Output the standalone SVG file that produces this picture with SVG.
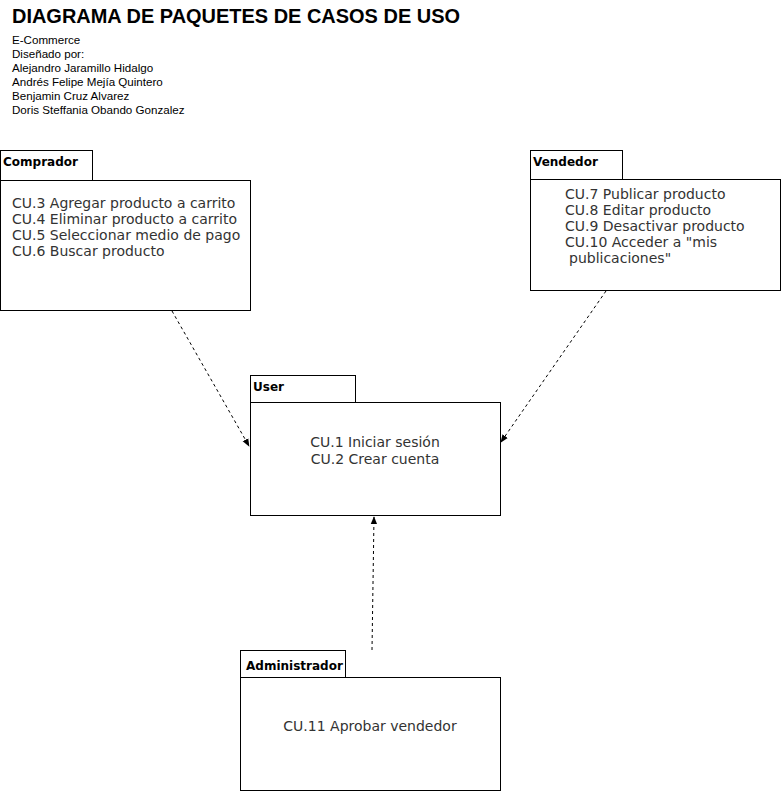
<svg xmlns="http://www.w3.org/2000/svg" width="781" height="791" viewBox="0 0 781 791">
<style>
.box{fill:#fff;stroke:#000;stroke-width:1}
.tab{font-family:"DejaVu Sans",Verdana,sans-serif;font-size:12px;font-weight:bold;fill:#000}
.body{font-family:"DejaVu Sans",Verdana,sans-serif;font-size:14px;fill:#333}
.hdr{font-family:"Liberation Sans",Arial,sans-serif;font-size:11.6px;fill:#000}
.conn{fill:none;stroke:#000;stroke-width:1;stroke-dasharray:3 3}
</style>
<defs>
<marker id="arr" viewBox="0 0 10 10" refX="9" refY="5" markerWidth="8" markerHeight="8" orient="auto" markerUnits="userSpaceOnUse">
<path d="M0,1 L10,5 L0,9 Z" fill="#000"/>
</marker>
</defs>
<rect width="781" height="791" fill="#fff"/>
<g id="header">
<text x="12" y="23" font-family="'Liberation Sans',Arial,sans-serif" font-size="21" font-weight="bold" textLength="448" lengthAdjust="spacingAndGlyphs">DIAGRAMA DE PAQUETES DE CASOS DE USO</text>
<text class="hdr" x="12" y="44">E-Commerce</text>
<text class="hdr" x="12" y="58">Diseñado por:</text>
<text class="hdr" x="12" y="72">Alejandro Jaramillo Hidalgo</text>
<text class="hdr" x="12" y="86">Andrés Felipe Mejía Quintero</text>
<text class="hdr" x="12" y="100">Benjamin Cruz Alvarez</text>
<text class="hdr" x="12" y="114">Doris Steffania Obando Gonzalez</text>
</g>
<g id="comprador">
<rect class="box" x="0.5" y="150.5" width="92" height="30"/>
<rect class="box" x="0.5" y="180.5" width="250" height="130"/>
<text class="tab" x="3" y="166">Comprador</text>
<text class="body" x="12" y="208">CU.3 Agregar producto a carrito</text>
<text class="body" x="12" y="224">CU.4 Eliminar producto a carrito</text>
<text class="body" x="12" y="240">CU.5 Seleccionar medio de pago</text>
<text class="body" x="12" y="256">CU.6 Buscar producto</text>
</g>
<g id="vendedor">
<rect class="box" x="530.5" y="150.5" width="92" height="30"/>
<rect class="box" x="530.5" y="179.5" width="250" height="111"/>
<text class="tab" x="533" y="166">Vendedor</text>
<text class="body" x="565" y="199">CU.7 Publicar producto</text>
<text class="body" x="565" y="215">CU.8 Editar producto</text>
<text class="body" x="565" y="231">CU.9 Desactivar producto</text>
<text class="body" x="565" y="247">CU.10 Acceder a "mis</text>
<text class="body" x="569" y="263">publicaciones"</text>
</g>
<g id="user">
<rect class="box" x="250.5" y="375.5" width="105" height="27"/>
<rect class="box" x="250.5" y="402.5" width="250" height="113"/>
<text class="tab" x="253" y="391">User</text>
<text class="body" x="375" y="447" text-anchor="middle">CU.1 Iniciar sesión</text>
<text class="body" x="375" y="464" text-anchor="middle">CU.2 Crear cuenta</text>
</g>
<g id="administrador">
<rect class="box" x="240.5" y="650.5" width="105" height="27"/>
<rect class="box" x="240.5" y="677.5" width="260" height="113"/>
<text class="tab" x="246" y="670">Administrador</text>
<text class="body" x="370" y="731" text-anchor="middle">CU.11 Aprobar vendedor</text>
</g>
<g id="connectors">
<path class="conn" d="M172,311 L249,446" marker-end="url(#arr)"/>
<path class="conn" d="M606,291 L501,442" marker-end="url(#arr)"/>
<path class="conn" d="M372,650 L374,517" marker-end="url(#arr)"/>
</g>
</svg>
